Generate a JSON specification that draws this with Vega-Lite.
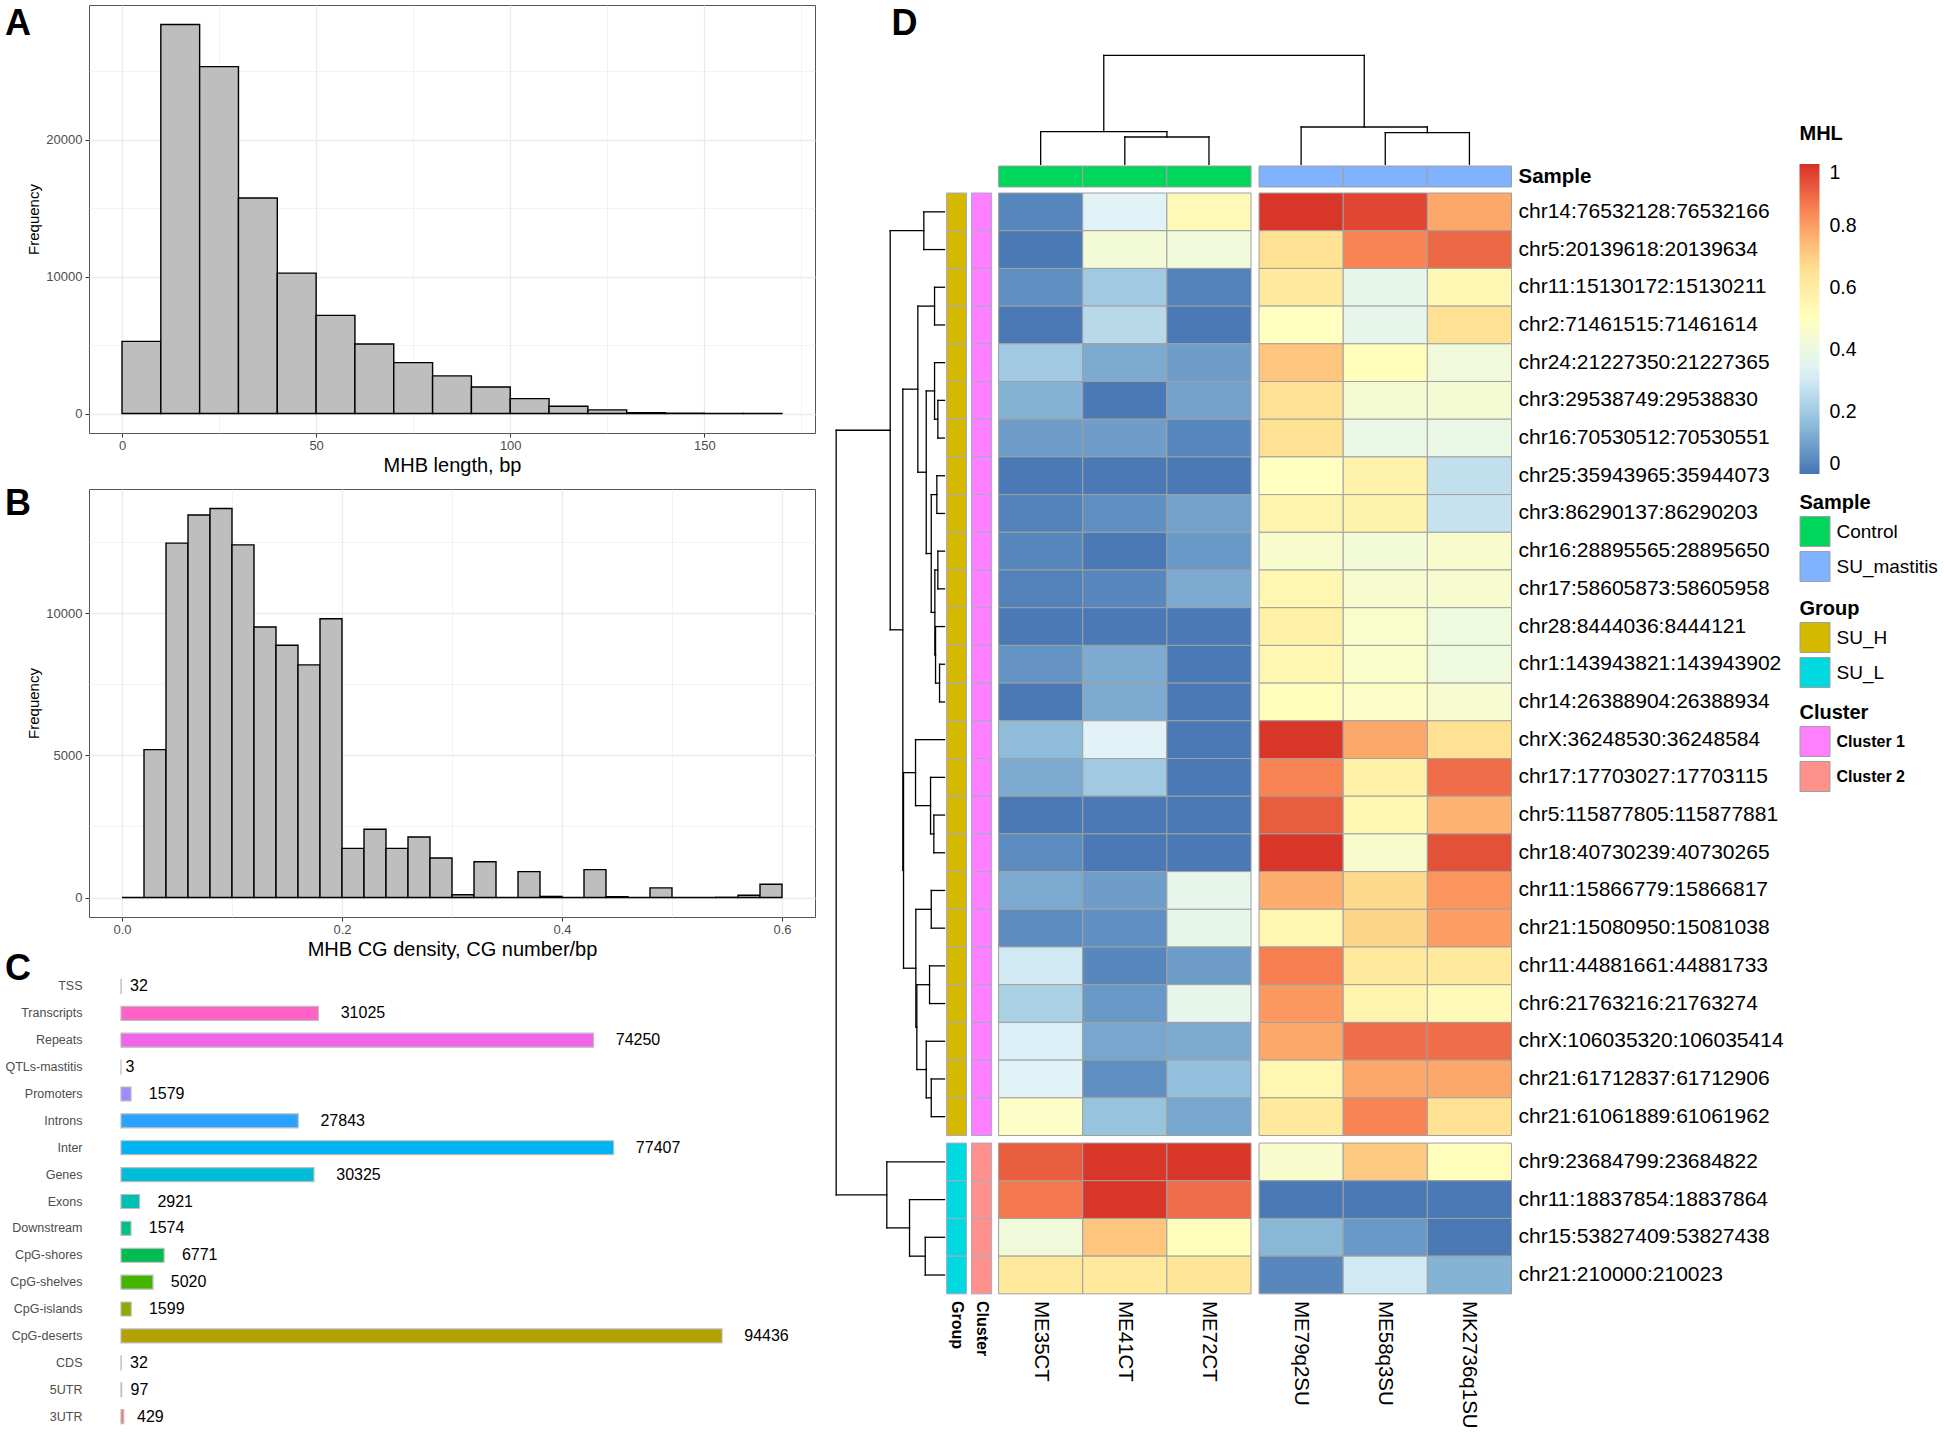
{
"$schema":"https://vega.github.io/schema/vega-lite/v6.json",
"padding":{"left":4,"top":4,"right":0,"bottom":0},
"background":"white",
"spacing":18.5,
"config":{
 "font":"Liberation Sans",
 "view":{"stroke":null},
 "title":{"font":"Liberation Sans","fontSize":36,"fontWeight":"bold","color":"#000000","anchor":"start","frame":"group","offset":0,"baseline":"alphabetic"},
 "axis":{"labelFont":"Liberation Sans","titleFont":"Liberation Sans"}
},
"datasets":{
 "histA":[
  {"lo":0,"hi":10,"count":5270},{"lo":10,"hi":20,"count":28430},{"lo":20,"hi":30,"count":25350},{"lo":30,"hi":40,"count":15750},
  {"lo":40,"hi":50,"count":10260},{"lo":50,"hi":60,"count":7170},{"lo":60,"hi":70,"count":5080},{"lo":70,"hi":80,"count":3720},
  {"lo":80,"hi":90,"count":2750},{"lo":90,"hi":100,"count":1940},{"lo":100,"hi":110,"count":1090},{"lo":110,"hi":120,"count":530},
  {"lo":120,"hi":130,"count":270},{"lo":130,"hi":140,"count":70},{"lo":140,"hi":150,"count":25},{"lo":150,"hi":160,"count":10},
  {"lo":160,"hi":170,"count":5}
 ],
 "histB":[
  {"lo":0.00,"hi":0.02,"count":0},{"lo":0.02,"hi":0.04,"count":5200},{"lo":0.04,"hi":0.06,"count":12460},{"lo":0.06,"hi":0.08,"count":13450},
  {"lo":0.08,"hi":0.10,"count":13680},{"lo":0.10,"hi":0.12,"count":12400},{"lo":0.12,"hi":0.14,"count":9510},{"lo":0.14,"hi":0.16,"count":8870},
  {"lo":0.16,"hi":0.18,"count":8180},{"lo":0.18,"hi":0.20,"count":9800},{"lo":0.20,"hi":0.22,"count":1730},{"lo":0.22,"hi":0.24,"count":2400},
  {"lo":0.24,"hi":0.26,"count":1730},{"lo":0.26,"hi":0.28,"count":2130},{"lo":0.28,"hi":0.30,"count":1390},{"lo":0.30,"hi":0.32,"count":100},
  {"lo":0.32,"hi":0.34,"count":1260},{"lo":0.34,"hi":0.36,"count":0},{"lo":0.36,"hi":0.38,"count":910},{"lo":0.38,"hi":0.40,"count":40},
  {"lo":0.40,"hi":0.42,"count":0},{"lo":0.42,"hi":0.44,"count":980},{"lo":0.44,"hi":0.46,"count":30},{"lo":0.46,"hi":0.48,"count":0},
  {"lo":0.48,"hi":0.50,"count":340},{"lo":0.50,"hi":0.52,"count":0},{"lo":0.52,"hi":0.54,"count":0},{"lo":0.54,"hi":0.56,"count":10},
  {"lo":0.56,"hi":0.58,"count":80},{"lo":0.58,"hi":0.60,"count":470}
 ],
 "annot":[
  {"feature":"TSS","n":32},{"feature":"Transcripts","n":31025},{"feature":"Repeats","n":74250},{"feature":"QTLs-mastitis","n":3},
  {"feature":"Promoters","n":1579},{"feature":"Introns","n":27843},{"feature":"Inter","n":77407},{"feature":"Genes","n":30325},
  {"feature":"Exons","n":2921},{"feature":"Downstream","n":1574},{"feature":"CpG-shores","n":6771},{"feature":"CpG-shelves","n":5020},
  {"feature":"CpG-islands","n":1599},{"feature":"CpG-deserts","n":94436},{"feature":"CDS","n":32},{"feature":"5UTR","n":97},{"feature":"3UTR","n":429}
 ],
 "samples":[
  {"sample":"ME35CT","ci":0,"type":"Control"},{"sample":"ME41CT","ci":1,"type":"Control"},{"sample":"ME72CT","ci":2,"type":"Control"},
  {"sample":"ME79q2SU","ci":3,"type":"SU_mastitis"},{"sample":"ME58q3SU","ci":4,"type":"SU_mastitis"},{"sample":"MK2736q1SU","ci":5,"type":"SU_mastitis"}
 ],
 "heat":[
  {"region":"chr14:76532128:76532166","ri":0,"group":"SU_H","cluster":"Cluster 1","ME35CT":0.04,"ME41CT":0.34,"ME72CT":0.53,"ME79q2SU":0.99,"ME58q3SU":0.96,"MK2736q1SU":0.78},
  {"region":"chr5:20139618:20139634","ri":1,"group":"SU_H","cluster":"Cluster 1","ME35CT":0.01,"ME41CT":0.43,"ME72CT":0.42,"ME79q2SU":0.66,"ME58q3SU":0.85,"MK2736q1SU":0.90},
  {"region":"chr11:15130172:15130211","ri":2,"group":"SU_H","cluster":"Cluster 1","ME35CT":0.06,"ME41CT":0.20,"ME72CT":0.03,"ME79q2SU":0.62,"ME58q3SU":0.37,"MK2736q1SU":0.54},
  {"region":"chr2:71461515:71461614","ri":3,"group":"SU_H","cluster":"Cluster 1","ME35CT":0.01,"ME41CT":0.25,"ME72CT":0.01,"ME79q2SU":0.50,"ME58q3SU":0.37,"MK2736q1SU":0.66},
  {"region":"chr24:21227350:21227365","ri":4,"group":"SU_H","cluster":"Cluster 1","ME35CT":0.20,"ME41CT":0.12,"ME72CT":0.09,"ME79q2SU":0.72,"ME58q3SU":0.51,"MK2736q1SU":0.42},
  {"region":"chr3:29538749:29538830","ri":5,"group":"SU_H","cluster":"Cluster 1","ME35CT":0.14,"ME41CT":0.01,"ME72CT":0.10,"ME79q2SU":0.66,"ME58q3SU":0.44,"MK2736q1SU":0.44},
  {"region":"chr16:70530512:70530551","ri":6,"group":"SU_H","cluster":"Cluster 1","ME35CT":0.09,"ME41CT":0.09,"ME72CT":0.04,"ME79q2SU":0.66,"ME58q3SU":0.39,"MK2736q1SU":0.39},
  {"region":"chr25:35943965:35944073","ri":7,"group":"SU_H","cluster":"Cluster 1","ME35CT":0.01,"ME41CT":0.01,"ME72CT":0.01,"ME79q2SU":0.50,"ME58q3SU":0.57,"MK2736q1SU":0.27},
  {"region":"chr3:86290137:86290203","ri":8,"group":"SU_H","cluster":"Cluster 1","ME35CT":0.03,"ME41CT":0.06,"ME72CT":0.10,"ME79q2SU":0.56,"ME58q3SU":0.57,"MK2736q1SU":0.28},
  {"region":"chr16:28895565:28895650","ri":9,"group":"SU_H","cluster":"Cluster 1","ME35CT":0.04,"ME41CT":0.01,"ME72CT":0.08,"ME79q2SU":0.46,"ME58q3SU":0.43,"MK2736q1SU":0.46},
  {"region":"chr17:58605873:58605958","ri":10,"group":"SU_H","cluster":"Cluster 1","ME35CT":0.03,"ME41CT":0.04,"ME72CT":0.12,"ME79q2SU":0.55,"ME58q3SU":0.45,"MK2736q1SU":0.45},
  {"region":"chr28:8444036:8444121","ri":11,"group":"SU_H","cluster":"Cluster 1","ME35CT":0.01,"ME41CT":0.01,"ME72CT":0.01,"ME79q2SU":0.58,"ME58q3SU":0.47,"MK2736q1SU":0.41},
  {"region":"chr1:143943821:143943902","ri":12,"group":"SU_H","cluster":"Cluster 1","ME35CT":0.07,"ME41CT":0.12,"ME72CT":0.01,"ME79q2SU":0.55,"ME58q3SU":0.47,"MK2736q1SU":0.41},
  {"region":"chr14:26388904:26388934","ri":13,"group":"SU_H","cluster":"Cluster 1","ME35CT":0.01,"ME41CT":0.12,"ME72CT":0.01,"ME79q2SU":0.51,"ME58q3SU":0.48,"MK2736q1SU":0.45},
  {"region":"chrX:36248530:36248584","ri":14,"group":"SU_H","cluster":"Cluster 1","ME35CT":0.16,"ME41CT":0.34,"ME72CT":0.01,"ME79q2SU":0.99,"ME58q3SU":0.78,"MK2736q1SU":0.66},
  {"region":"chr17:17703027:17703115","ri":15,"group":"SU_H","cluster":"Cluster 1","ME35CT":0.12,"ME41CT":0.20,"ME72CT":0.01,"ME79q2SU":0.85,"ME58q3SU":0.58,"MK2736q1SU":0.89},
  {"region":"chr5:115877805:115877881","ri":16,"group":"SU_H","cluster":"Cluster 1","ME35CT":0.01,"ME41CT":0.01,"ME72CT":0.01,"ME79q2SU":0.92,"ME58q3SU":0.54,"MK2736q1SU":0.76},
  {"region":"chr18:40730239:40730265","ri":17,"group":"SU_H","cluster":"Cluster 1","ME35CT":0.05,"ME41CT":0.01,"ME72CT":0.01,"ME79q2SU":0.99,"ME58q3SU":0.46,"MK2736q1SU":0.94},
  {"region":"chr11:15866779:15866817","ri":18,"group":"SU_H","cluster":"Cluster 1","ME35CT":0.12,"ME41CT":0.09,"ME72CT":0.37,"ME79q2SU":0.77,"ME58q3SU":0.68,"MK2736q1SU":0.82},
  {"region":"chr21:15080950:15081038","ri":19,"group":"SU_H","cluster":"Cluster 1","ME35CT":0.05,"ME41CT":0.06,"ME72CT":0.37,"ME79q2SU":0.55,"ME58q3SU":0.69,"MK2736q1SU":0.80},
  {"region":"chr11:44881661:44881733","ri":20,"group":"SU_H","cluster":"Cluster 1","ME35CT":0.30,"ME41CT":0.04,"ME72CT":0.09,"ME79q2SU":0.86,"ME58q3SU":0.62,"MK2736q1SU":0.62},
  {"region":"chr6:21763216:21763274","ri":21,"group":"SU_H","cluster":"Cluster 1","ME35CT":0.22,"ME41CT":0.08,"ME72CT":0.37,"ME79q2SU":0.81,"ME58q3SU":0.56,"MK2736q1SU":0.53},
  {"region":"chrX:106035320:106035414","ri":22,"group":"SU_H","cluster":"Cluster 1","ME35CT":0.32,"ME41CT":0.11,"ME72CT":0.12,"ME79q2SU":0.78,"ME58q3SU":0.89,"MK2736q1SU":0.89},
  {"region":"chr21:61712837:61712906","ri":23,"group":"SU_H","cluster":"Cluster 1","ME35CT":0.34,"ME41CT":0.06,"ME72CT":0.17,"ME79q2SU":0.55,"ME58q3SU":0.78,"MK2736q1SU":0.78},
  {"region":"chr21:61061889:61061962","ri":24,"group":"SU_H","cluster":"Cluster 1","ME35CT":0.48,"ME41CT":0.18,"ME72CT":0.11,"ME79q2SU":0.62,"ME58q3SU":0.85,"MK2736q1SU":0.66},
  {"region":"chr9:23684799:23684822","ri":25,"group":"SU_L","cluster":"Cluster 2","ME35CT":0.92,"ME41CT":0.99,"ME72CT":0.99,"ME79q2SU":0.46,"ME58q3SU":0.71,"MK2736q1SU":0.51},
  {"region":"chr11:18837854:18837864","ri":26,"group":"SU_L","cluster":"Cluster 2","ME35CT":0.87,"ME41CT":0.99,"ME72CT":0.89,"ME79q2SU":0.01,"ME58q3SU":0.01,"MK2736q1SU":0.01},
  {"region":"chr15:53827409:53827438","ri":27,"group":"SU_L","cluster":"Cluster 2","ME35CT":0.42,"ME41CT":0.72,"ME72CT":0.51,"ME79q2SU":0.15,"ME58q3SU":0.08,"MK2736q1SU":0.01},
  {"region":"chr21:210000:210023","ri":28,"group":"SU_L","cluster":"Cluster 2","ME35CT":0.62,"ME41CT":0.62,"ME72CT":0.64,"ME79q2SU":0.04,"ME58q3SU":0.30,"MK2736q1SU":0.14}
 ],
 "rowtree":[
  {"node":"n1","a":0.5,"b":1.5,"h":20.7,"ha":0,"hb":0},
  {"node":"n2","a":2.5,"b":3.5,"h":10,"ha":0,"hb":0},
  {"node":"n3","a":5.5,"b":6.5,"h":6.7,"ha":0,"hb":0},
  {"node":"n4","a":4.5,"b":6.0,"h":10,"ha":0,"hb":6.7},
  {"node":"n5","a":7.5,"b":8.5,"h":7.7,"ha":0,"hb":0},
  {"node":"n6","a":9.5,"b":10.5,"h":6.7,"ha":0,"hb":0},
  {"node":"n7","a":12.5,"b":13.5,"h":5,"ha":0,"hb":0},
  {"node":"n8","a":11.5,"b":13.0,"h":9,"ha":0,"hb":5},
  {"node":"n9","a":10.0,"b":12.25,"h":9.7,"ha":6.7,"hb":9},
  {"node":"n10","a":8.0,"b":11.125,"h":13.3,"ha":7.7,"hb":9.7},
  {"node":"n11","a":5.25,"b":9.5625,"h":18.3,"ha":10,"hb":13.3},
  {"node":"n12","a":3.0,"b":7.40625,"h":26.7,"ha":10,"hb":18.3},
  {"node":"n13","a":16.5,"b":17.5,"h":10.7,"ha":0,"hb":0},
  {"node":"n14","a":15.5,"b":17.0,"h":14,"ha":0,"hb":10.7},
  {"node":"n15","a":14.5,"b":16.25,"h":29,"ha":0,"hb":14},
  {"node":"n16","a":18.5,"b":19.5,"h":13.3,"ha":0,"hb":0},
  {"node":"n17","a":20.5,"b":21.5,"h":15,"ha":0,"hb":0},
  {"node":"n18","a":23.5,"b":24.5,"h":13.3,"ha":0,"hb":0},
  {"node":"n19","a":22.5,"b":24.0,"h":18.3,"ha":0,"hb":13.3},
  {"node":"n20","a":21.0,"b":23.25,"h":27.7,"ha":15,"hb":18.3},
  {"node":"n21","a":19.0,"b":22.125,"h":28.7,"ha":13.3,"hb":27.7},
  {"node":"n22","a":15.375,"b":20.5625,"h":41,"ha":29,"hb":28.7},
  {"node":"n23","a":5.203,"b":17.969,"h":41.7,"ha":26.7,"hb":41},
  {"node":"n24","a":1.0,"b":11.586,"h":54.3,"ha":20.7,"hb":41.7},
  {"node":"n25","a":27.5,"b":28.5,"h":19.3,"ha":0,"hb":0},
  {"node":"n26","a":26.5,"b":28.0,"h":35,"ha":0,"hb":19.3},
  {"node":"n27","a":25.5,"b":27.25,"h":57.7,"ha":0,"hb":35},
  {"node":"n28","a":6.293,"b":26.375,"h":108.3,"ha":54.3,"hb":57.7}
 ],
 "coltree":[
  {"node":"c1","a":1.5,"b":2.5,"h":27.3,"ha":0,"hb":0},
  {"node":"c2","a":0.5,"b":2.0,"h":32.6,"ha":0,"hb":27.3},
  {"node":"c3","a":4.5,"b":5.5,"h":31.6,"ha":0,"hb":0},
  {"node":"c4","a":3.5,"b":5.0,"h":37.3,"ha":0,"hb":31.6},
  {"node":"c5","a":1.25,"b":4.25,"h":109,"ha":32.6,"hb":37.3}
 ]
},
"hconcat":[
 {"vconcat":[
  {"width":726,"height":428,
   "view":{"stroke":"#555555","strokeWidth":1},
   "title":{"text":"A","dx":-84,"dy":42},
   "data":{"name":"histA"},
   "mark":{"type":"rect","fill":"#BEBEBE","stroke":"#000000","strokeWidth":1.4},
   "encoding":{
    "x":{"field":"lo","type":"quantitative","scale":{"domain":[-8.5,178.5],"nice":false,"zero":false},
     "axis":{"title":"MHB length, bp","values":[0,25,50,75,100,125,150,175],
      "labelExpr":"datum.value % 50 === 0 ? format(datum.value,'d') : ''",
      "grid":true,"gridColor":"#EBEBEB","gridWidth":{"condition":{"test":"datum.value % 50 === 0","value":1.3},"value":0.6},
      "tickColor":"#333333","tickOpacity":{"condition":{"test":"datum.value % 50 === 0","value":1},"value":0},
      "tickSize":4,"tickWidth":1,"domain":false,"labelFontSize":13,"labelColor":"#4D4D4D","labelPadding":2,
      "titleFontSize":20,"titleFontWeight":"normal","titleColor":"#000000","titlePadding":3}},
    "x2":{"field":"hi"},
    "y":{"field":"count","type":"quantitative","scale":{"domain":[-1422,29852],"nice":false,"zero":false},
     "axis":{"title":"Frequency","values":[0,5000,10000,15000,20000,25000],
      "labelExpr":"datum.value % 10000 === 0 ? format(datum.value,'d') : ''",
      "grid":true,"gridColor":"#EBEBEB","gridWidth":{"condition":{"test":"datum.value % 10000 === 0","value":1.3},"value":0.6},
      "tickColor":"#333333","tickOpacity":{"condition":{"test":"datum.value % 10000 === 0","value":1},"value":0},
      "tickSize":4,"tickWidth":1,"domain":false,"labelFontSize":13,"labelColor":"#4D4D4D","labelPadding":3,
      "titleFontSize":15,"titleFontWeight":"normal","titleColor":"#000000","titlePadding":4}},
    "y2":{"datum":0}
   }
  },
  {"width":726,"height":428,
   "view":{"stroke":"#555555","strokeWidth":1},
   "title":{"text":"B","dx":-84,"dy":38},
   "data":{"name":"histB"},
   "mark":{"type":"rect","fill":"#BEBEBE","stroke":"#000000","strokeWidth":1.4},
   "encoding":{
    "x":{"field":"lo","type":"quantitative","scale":{"domain":[-0.03,0.63],"nice":false,"zero":false},
     "axis":{"title":"MHB CG density, CG number/bp","values":[0,0.1,0.2,0.3,0.4,0.5,0.6],
      "labelExpr":"round(datum.value*10) % 2 === 0 ? format(datum.value,'.1f') : ''",
      "grid":true,"gridColor":"#EBEBEB","gridWidth":{"condition":{"test":"round(datum.value*10) % 2 === 0","value":1.3},"value":0.6},
      "tickColor":"#333333","tickOpacity":{"condition":{"test":"round(datum.value*10) % 2 === 0","value":1},"value":0},
      "tickSize":4,"tickWidth":1,"domain":false,"labelFontSize":13,"labelColor":"#4D4D4D","labelPadding":2,
      "titleFontSize":20,"titleFontWeight":"normal","titleColor":"#000000","titlePadding":3}},
    "x2":{"field":"hi"},
    "y":{"field":"count","type":"quantitative","scale":{"domain":[-684,14364],"nice":false,"zero":false},
     "axis":{"title":"Frequency","values":[0,2500,5000,7500,10000,12500],
      "labelExpr":"datum.value % 5000 === 0 ? format(datum.value,'d') : ''",
      "grid":true,"gridColor":"#EBEBEB","gridWidth":{"condition":{"test":"datum.value % 5000 === 0","value":1.3},"value":0.6},
      "tickColor":"#333333","tickOpacity":{"condition":{"test":"datum.value % 5000 === 0","value":1},"value":0},
      "tickSize":4,"tickWidth":1,"domain":false,"labelFontSize":13,"labelColor":"#4D4D4D","labelPadding":3,
      "titleFontSize":15,"titleFontWeight":"normal","titleColor":"#000000","titlePadding":4}},
    "y2":{"datum":0}
   }
  },
  {"width":668,"height":457,
   "title":{"text":"C","dx":-84,"dy":19},
   "data":{"name":"annot"},
   "transform":[{"calculate":"datum.n + length(format(datum.n,'d')) * 699","as":"lx"}],
   "encoding":{
    "y":{"field":"feature","type":"nominal","sort":null,"scale":{"paddingInner":0.48,"paddingOuter":0.24},
     "axis":{"title":null,"ticks":false,"domain":false,"grid":false,"labelFontSize":12.5,"labelColor":"#4D4D4D","labelPadding":7}}
   },
   "layer":[
    {"mark":{"type":"bar","stroke":"#BDBDBD","strokeWidth":1.2},
     "encoding":{
      "x":{"field":"n","type":"quantitative","scale":{"domain":[-5028,99935],"nice":false,"zero":false},"axis":null},
      "x2":{"datum":0},
      "fill":{"field":"feature","type":"nominal","legend":null,
       "scale":{"domain":["TSS","Transcripts","Repeats","QTLs-mastitis","Promoters","Introns","Inter","Genes","Exons","Downstream","CpG-shores","CpG-shelves","CpG-islands","CpG-deserts","CDS","5UTR","3UTR"],
        "range":["#FF6C9A","#FF61C7","#F166E8","#D277FF","#9C8DFF","#29A3FF","#00B3F2","#00BCD6","#00C0B2","#00C087","#00BC51","#45B500","#89AC00","#B2A100","#D09400","#E7851E","#F8766D"]}}
     }},
    {"mark":{"type":"text","align":"left","baseline":"middle","fontSize":16,"color":"#000000"},
     "encoding":{
      "x":{"field":"lx","type":"quantitative"},
      "text":{"field":"n","type":"quantitative","format":"d"}
     }}
   ]
  }
 ],"spacing":56,"bounds":"flush"},
 {"width":676,"height":1289,
  "title":{"text":"D","dx":56,"dy":42},
  "layer":[
   {"data":{"name":"heat"},
    "transform":[
     {"fold":["ME35CT","ME41CT","ME72CT","ME79q2SU","ME58q3SU","MK2736q1SU"],"as":["sample","mhl"]},
     {"lookup":"sample","from":{"data":{"name":"samples"},"key":"sample","fields":["ci"]}},
     {"calculate":"datum.ci + (datum.ci >= 3 ? 0.095 : 0)","as":"x0"},
     {"calculate":"datum.x0 + 1","as":"x1"},
     {"calculate":"datum.ri + (datum.ri >= 25 ? 0.2 : 0)","as":"y0"},
     {"calculate":"datum.y0 + 1","as":"y1"}
    ],
    "mark":{"type":"rect","stroke":"#A0A0A0","strokeWidth":1},
    "encoding":{
     "x":{"field":"x0","type":"quantitative","scale":{"domain":[-1.938,6.095],"nice":false,"zero":false},"axis":null},
     "x2":{"field":"x1"},
     "y":{"field":"y0","type":"quantitative","scale":{"domain":[-4.987,29.204],"nice":false,"zero":false,"reverse":true},"axis":null},
     "y2":{"field":"y1"},
     "fill":{"field":"mhl","type":"quantitative",
      "scale":{"type":"linear","domain":[0,0.1667,0.3333,0.5,0.6667,0.8333,1],"range":["#4575B4","#91BFDB","#E0F3F8","#FFFFBF","#FEE090","#FC8D59","#D73027"],"interpolate":"rgb","clamp":true},
      "legend":{"title":"MHL","orient":"none","legendX":964,"legendY":119,"direction":"vertical","values":[0,0.2,0.4,0.6,0.8,1],"format":"~g",
       "gradientLength":310,"gradientThickness":20,"gradientStrokeWidth":0,"labelFont":"Liberation Sans","labelFontSize":19.5,"labelColor":"#000000","labelOffset":10,"labelOverlap":false,
       "titleFont":"Liberation Sans","titleFontSize":20,"titleFontWeight":"bold","titleColor":"#000000","titlePadding":20,"padding":0}}
    }},
   {"data":{"name":"heat"},
    "transform":[
     {"calculate":"datum.ri + (datum.ri >= 25 ? 0.2 : 0)","as":"y0"},
     {"calculate":"datum.y0 + 1","as":"y1"}
    ],
    "mark":{"type":"rect","stroke":"#A8A8C8","strokeWidth":1},
    "encoding":{
     "x":{"datum":-0.618,"type":"quantitative","scale":{"domain":[-1.938,6.095],"nice":false,"zero":false},"axis":null},
     "x2":{"datum":-0.381},
     "y":{"field":"y0","type":"quantitative","scale":{"domain":[-4.987,29.204],"nice":false,"zero":false,"reverse":true},"axis":null},
     "y2":{"field":"y1"},
     "fill":{"field":"group","type":"nominal","scale":{"domain":["SU_H","SU_L"],"range":["#D4B900","#00D9E0"]},
      "legend":{"title":"Group","orient":"none","legendX":964,"legendY":594,"symbolType":"square","symbolSize":900,"symbolStrokeColor":"#A0A0A0","symbolStrokeWidth":1,"rowPadding":0,
       "labelFont":"Liberation Sans","labelFontSize":19,"labelColor":"#000000","labelOffset":6,"titleFont":"Liberation Sans","titleFontSize":20,"titleFontWeight":"bold","titleColor":"#000000","titlePadding":3,"padding":0}}
    }},
   {"data":{"name":"heat"},
    "transform":[
     {"calculate":"datum.ri + (datum.ri >= 25 ? 0.2 : 0)","as":"y0"},
     {"calculate":"datum.y0 + 1","as":"y1"}
    ],
    "mark":{"type":"rect","stroke":"#A8A8C8","strokeWidth":1},
    "encoding":{
     "x":{"datum":-0.321,"type":"quantitative","scale":{"domain":[-1.938,6.095],"nice":false,"zero":false},"axis":null},
     "x2":{"datum":-0.083},
     "y":{"field":"y0","type":"quantitative","scale":{"domain":[-4.987,29.204],"nice":false,"zero":false,"reverse":true},"axis":null},
     "y2":{"field":"y1"},
     "fill":{"field":"cluster","type":"nominal","scale":{"domain":["Cluster 1","Cluster 2"],"range":["#FF80FF","#FF918C"]},
      "legend":{"title":"Cluster","orient":"none","legendX":964,"legendY":698,"symbolType":"square","symbolSize":900,"symbolStrokeColor":"#A0A0A0","symbolStrokeWidth":1,"rowPadding":0,
       "labelFont":"Liberation Sans","labelFontSize":16,"labelFontWeight":"bold","labelColor":"#000000","labelOffset":6,"titleFont":"Liberation Sans","titleFontSize":20,"titleFontWeight":"bold","titleColor":"#000000","titlePadding":3,"padding":0}}
    }},
   {"data":{"name":"samples"},
    "transform":[
     {"calculate":"datum.ci + (datum.ci >= 3 ? 0.095 : 0)","as":"x0"},
     {"calculate":"datum.x0 + 1","as":"x1"}
    ],
    "mark":{"type":"rect","stroke":"#A0A0A0","strokeWidth":1},
    "encoding":{
     "x":{"field":"x0","type":"quantitative","scale":{"domain":[-1.938,6.095],"nice":false,"zero":false},"axis":null},
     "x2":{"field":"x1"},
     "y":{"datum":-0.716,"type":"quantitative","scale":{"domain":[-4.987,29.204],"nice":false,"zero":false,"reverse":true},"axis":null},
     "y2":{"datum":-0.159},
     "fill":{"field":"type","type":"nominal","scale":{"domain":["Control","SU_mastitis"],"range":["#00D65C","#80B2FF"]},
      "legend":{"title":"Sample","orient":"none","legendX":964,"legendY":488,"symbolType":"square","symbolSize":900,"symbolStrokeColor":"#A0A0A0","symbolStrokeWidth":1,"rowPadding":0,
       "labelFont":"Liberation Sans","labelFontSize":19,"labelColor":"#000000","labelOffset":6,"titleFont":"Liberation Sans","titleFontSize":20,"titleFontWeight":"bold","titleColor":"#000000","titlePadding":3,"padding":0}}
    }},
   {"data":{"name":"rowtree"},
    "transform":[
     {"calculate":"-(54 + datum.h) / 84.1","as":"xh"},
     {"calculate":"-(54 + datum.ha) / 84.1","as":"xa"},
     {"calculate":"-(54 + datum.hb) / 84.1","as":"xb"},
     {"calculate":"datum.a + (datum.a >= 25 ? 0.2 : 0)","as":"ya"},
     {"calculate":"datum.b + (datum.b >= 25 ? 0.2 : 0)","as":"yb"}
    ],
    "layer":[
     {"mark":{"type":"rule","color":"#000000","strokeWidth":1.3,"strokeCap":"square"},
      "encoding":{
       "x":{"field":"xh","type":"quantitative","scale":{"domain":[-1.938,6.095],"nice":false,"zero":false},"axis":null},
       "y":{"field":"ya","type":"quantitative","scale":{"domain":[-4.987,29.204],"nice":false,"zero":false,"reverse":true},"axis":null},
       "y2":{"field":"yb"}}},
     {"mark":{"type":"rule","color":"#000000","strokeWidth":1.3,"strokeCap":"square"},
      "encoding":{
       "x":{"field":"xa","type":"quantitative","scale":{"domain":[-1.938,6.095],"nice":false,"zero":false},"axis":null},
       "x2":{"field":"xh"},
       "y":{"field":"ya","type":"quantitative","scale":{"domain":[-4.987,29.204],"nice":false,"zero":false,"reverse":true},"axis":null}}},
     {"mark":{"type":"rule","color":"#000000","strokeWidth":1.3,"strokeCap":"square"},
      "encoding":{
       "x":{"field":"xb","type":"quantitative","scale":{"domain":[-1.938,6.095],"nice":false,"zero":false},"axis":null},
       "x2":{"field":"xh"},
       "y":{"field":"yb","type":"quantitative","scale":{"domain":[-4.987,29.204],"nice":false,"zero":false,"reverse":true},"axis":null}}}
    ]},
   {"data":{"name":"coltree"},
    "transform":[
     {"calculate":"-(28.7 + datum.h) / 37.7","as":"yh"},
     {"calculate":"-(28.7 + datum.ha) / 37.7","as":"yha"},
     {"calculate":"-(28.7 + datum.hb) / 37.7","as":"yhb"},
     {"calculate":"datum.a + (datum.a >= 3 ? 0.095 : 0)","as":"xa"},
     {"calculate":"datum.b + (datum.b >= 3 ? 0.095 : 0)","as":"xb"}
    ],
    "layer":[
     {"mark":{"type":"rule","color":"#000000","strokeWidth":1.3,"strokeCap":"square"},
      "encoding":{
       "x":{"field":"xa","type":"quantitative","scale":{"domain":[-1.938,6.095],"nice":false,"zero":false},"axis":null},
       "x2":{"field":"xb"},
       "y":{"field":"yh","type":"quantitative","scale":{"domain":[-4.987,29.204],"nice":false,"zero":false,"reverse":true},"axis":null}}},
     {"mark":{"type":"rule","color":"#000000","strokeWidth":1.3,"strokeCap":"square"},
      "encoding":{
       "x":{"field":"xa","type":"quantitative","scale":{"domain":[-1.938,6.095],"nice":false,"zero":false},"axis":null},
       "y":{"field":"yha","type":"quantitative","scale":{"domain":[-4.987,29.204],"nice":false,"zero":false,"reverse":true},"axis":null},
       "y2":{"field":"yh"}}},
     {"mark":{"type":"rule","color":"#000000","strokeWidth":1.3,"strokeCap":"square"},
      "encoding":{
       "x":{"field":"xb","type":"quantitative","scale":{"domain":[-1.938,6.095],"nice":false,"zero":false},"axis":null},
       "y":{"field":"yhb","type":"quantitative","scale":{"domain":[-4.987,29.204],"nice":false,"zero":false,"reverse":true},"axis":null},
       "y2":{"field":"yh"}}}
    ]},
   {"data":{"name":"heat"},
    "transform":[{"calculate":"datum.ri + (datum.ri >= 25 ? 0.2 : 0) + 0.5","as":"yc"}],
    "mark":{"type":"text","align":"left","baseline":"middle","dx":7,"font":"Liberation Sans","fontSize":21,"color":"#000000"},
    "encoding":{
     "x":{"datum":6.095,"type":"quantitative","scale":{"domain":[-1.938,6.095],"nice":false,"zero":false},"axis":null},
     "y":{"field":"yc","type":"quantitative","scale":{"domain":[-4.987,29.204],"nice":false,"zero":false,"reverse":true},"axis":null},
     "text":{"field":"region"}
    }},
   {"data":{"values":[{"label":"Sample"}]},
    "mark":{"type":"text","align":"left","baseline":"middle","dx":7,"font":"Liberation Sans","fontSize":20.5,"fontWeight":"bold","color":"#000000"},
    "encoding":{
     "x":{"datum":6.095,"type":"quantitative","scale":{"domain":[-1.938,6.095],"nice":false,"zero":false},"axis":null},
     "y":{"datum":-0.4377,"type":"quantitative","scale":{"domain":[-4.987,29.204],"nice":false,"zero":false,"reverse":true},"axis":null},
     "text":{"field":"label"}
    }},
   {"data":{"name":"samples"},
    "transform":[{"calculate":"datum.ci + (datum.ci >= 3 ? 0.095 : 0) + 0.5","as":"xc"}],
    "mark":{"type":"text","align":"left","baseline":"middle","angle":90,"dx":7,"font":"Liberation Sans","fontSize":20.5,"color":"#000000"},
    "encoding":{
     "x":{"field":"xc","type":"quantitative","scale":{"domain":[-1.938,6.095],"nice":false,"zero":false},"axis":null},
     "y":{"datum":29.204,"type":"quantitative","scale":{"domain":[-4.987,29.204],"nice":false,"zero":false,"reverse":true},"axis":null},
     "text":{"field":"sample"}
    }},
   {"data":{"values":[{"label":"Group"}]},
    "mark":{"type":"text","align":"left","baseline":"middle","angle":90,"dx":7,"font":"Liberation Sans","fontSize":16,"fontWeight":"bold","color":"#000000"},
    "encoding":{
     "x":{"datum":-0.4995,"type":"quantitative","scale":{"domain":[-1.938,6.095],"nice":false,"zero":false},"axis":null},
     "y":{"datum":29.204,"type":"quantitative","scale":{"domain":[-4.987,29.204],"nice":false,"zero":false,"reverse":true},"axis":null},
     "text":{"field":"label"}
    }},
   {"data":{"values":[{"label":"Cluster"}]},
    "mark":{"type":"text","align":"left","baseline":"middle","angle":90,"dx":7,"font":"Liberation Sans","fontSize":16,"fontWeight":"bold","color":"#000000"},
    "encoding":{
     "x":{"datum":-0.202,"type":"quantitative","scale":{"domain":[-1.938,6.095],"nice":false,"zero":false},"axis":null},
     "y":{"datum":29.204,"type":"quantitative","scale":{"domain":[-4.987,29.204],"nice":false,"zero":false,"reverse":true},"axis":null},
     "text":{"field":"label"}
    }}
  ],
  "resolve":{"scale":{"fill":"independent"},"legend":{"fill":"independent"}}
 }
]
}
